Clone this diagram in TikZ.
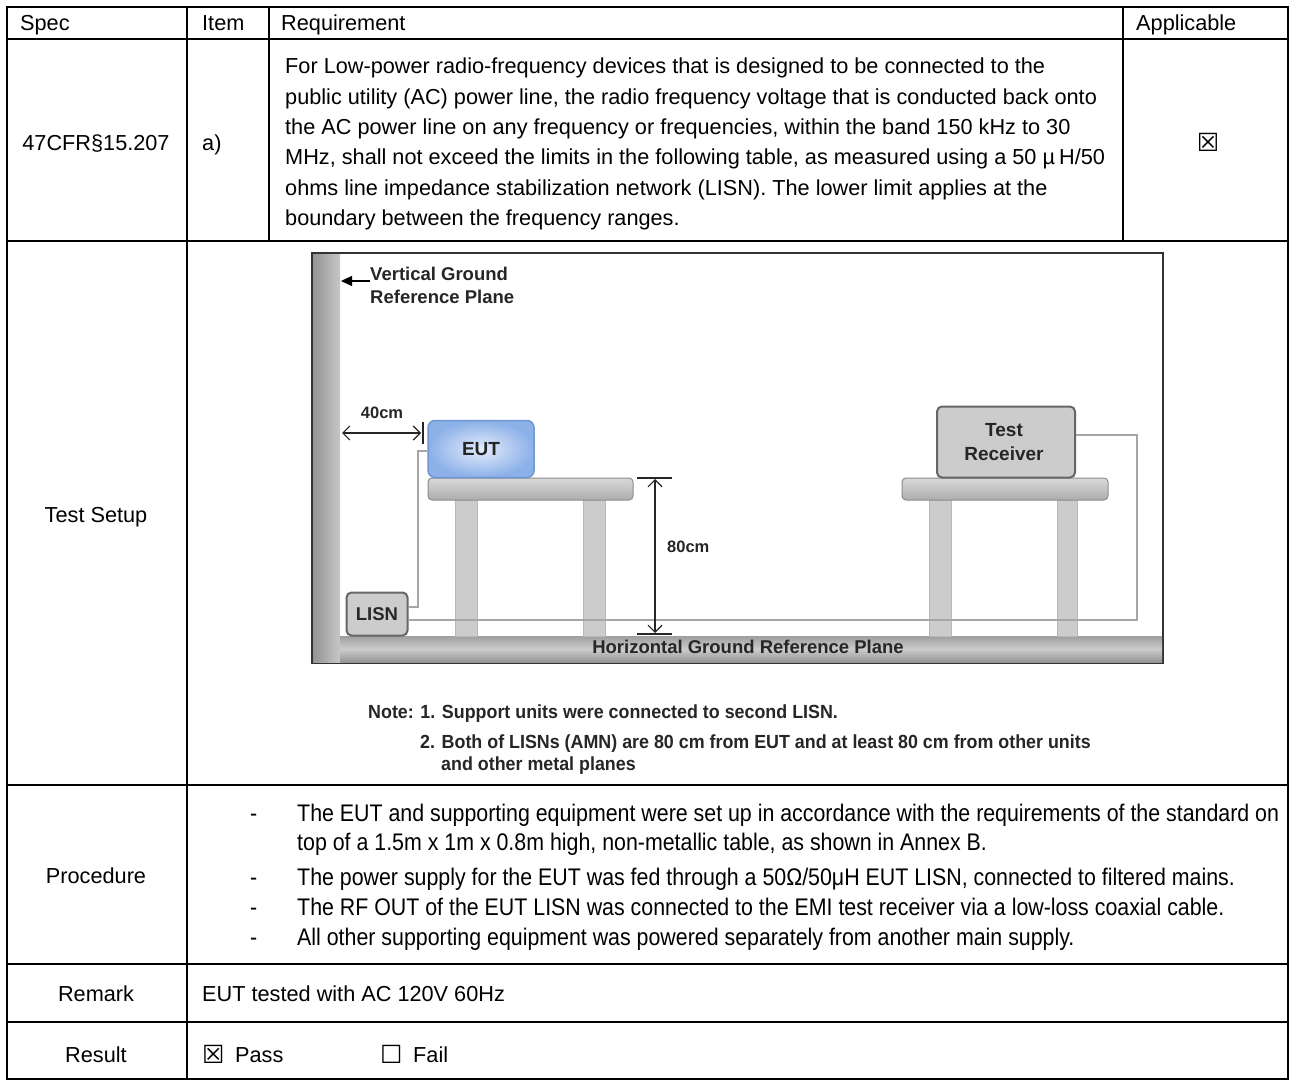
\documentclass[tikz,border=0pt]{standalone}
\usepackage{fontspec}
\setmainfont{Liberation Sans}
\newfontfamily\procfont{Liberation Sans}[FakeStretch=0.89]
\newfontfamily\notefont{Liberation Sans}[FakeStretch=0.94]
\newfontfamily\symfont{DejaVu Sans}
\usetikzlibrary{arrows.meta}
\definecolor{eutin}{RGB}{228,237,252}
\definecolor{eutout}{RGB}{140,176,232}
\definecolor{eutedge}{RGB}{112,150,214}
\tikzset{
  tabline/.style={line width=2pt, black},
  tabtxt/.style={inner sep=0pt, anchor=base west, font=\fontsize{21.7}{26}\selectfont},
  tabctr/.style={inner sep=0pt, anchor=base, font=\fontsize{21.7}{26}\selectfont},
  proctxt/.style={inner sep=0pt, anchor=base west, font=\procfont\fontsize{24}{28}\selectfont},
  diatxt/.style={inner sep=0pt, font=\bfseries\fontsize{18.5}{22}\selectfont, text=black!85},
  dimtxt/.style={inner sep=0pt, font=\bfseries\fontsize{16.5}{20}\selectfont, text=black!85},
  notetxt/.style={inner sep=0pt, anchor=base west, font=\notefont\bfseries\fontsize{19}{23}\selectfont, text=black!85},
  device/.style={draw=black!60, line width=2pt, fill=black!20, rounded corners=5pt, inner sep=0pt},
  tabletop/.style={draw=black!45, line width=1pt, top color=black!15, bottom color=black!32, rounded corners=4pt},
  tableleg/.style={draw=black!28, line width=1pt, fill=black!20},
  cable/.style={draw=black!35, line width=1.3pt},
  dim/.style={line width=1.2pt, black!85},
  chk/.style={inner sep=0pt, font=\symfont\fontsize{25}{28}\selectfont},
}
\begin{document}
\begin{tikzpicture}[x=1pt,y=-1pt]
\useasboundingbox (0,0) rectangle (1291,1081);
\fill[white] (0,0) rectangle (1291,1081);

% ---------- table grid ----------
\draw[tabline] (7,7) rectangle (1288,1079);
\draw[tabline] (7,39) -- (1288,39);
\draw[tabline] (7,241) -- (1288,241);
\draw[tabline] (7,785) -- (1288,785);
\draw[tabline] (7,964) -- (1288,964);
\draw[tabline] (7,1022) -- (1288,1022);
\draw[tabline] (187,7) -- (187,1079);
\draw[tabline] (269,7) -- (269,241);
\draw[tabline] (1123,7) -- (1123,241);

% ---------- header ----------
\node[tabtxt] (hspec) at (20,31) {Spec};
\node[tabtxt] (hitem) at (202,31) {Item};
\node[tabtxt] (hreq) at (281,31) {Requirement};
\node[tabtxt] (happ) at (1136,31) {Applicable};

% ---------- row 1 ----------
\node[tabctr] (spec) at (96,150) {47CFR§15.207};
\node[tabtxt] (item) at (202,150) {a)};
\node[tabtxt] (r1) at (285,74) {For Low-power radio-frequency devices that is designed to be connected to the};
\node[tabtxt] (r2) at (285,104) {public utility (AC) power line, the radio frequency voltage that is conducted back onto};
\node[tabtxt] (r3) at (285,134) {the AC power line on any frequency or frequencies, within the band 150 kHz to 30};
\node[tabtxt] (r4) at (285,164) {MHz, shall not exceed the limits in the following table, as measured using a 50 µ\kern-2pt\ H/50};
\node[tabtxt] (r5) at (285,195) {ohms line impedance stabilization network (LISN). The lower limit applies at the};
\node[tabtxt] (r6) at (285,225) {boundary between the frequency ranges.};
\node[chk] (appl) at (1208,142) {☒};

% ---------- row 2: test setup ----------
\node[tabctr] (tslabel) at (96,522) {Test Setup};

% diagram frame and planes
\draw[line width=1.5pt, black!80] (312,253) rectangle (1163,663);
\shade[left color=black!42, right color=black!22] (313,254) rectangle (340,662);
\shade[top color=black!38, bottom color=black!42, middle color=black!20] (340,636) rectangle (1162,662);
\node[diatxt] (hplane) at (748,647) {Horizontal Ground Reference Plane};

% vertical plane label
\node[diatxt, anchor=west] (vgt) at (370,274) {Vertical Ground};
\node[diatxt, anchor=west] (vgb) at (370,297) {Reference Plane};
\coordinate (vgtip) at (341,281);
\draw[line width=1.2pt, -{Triangle[length=11pt,width=10pt]}] (vgt.west |- vgtip) -- (vgtip);

% EUT table
\draw[tableleg] (455,498) rectangle (477,636);
\draw[tableleg] (583,498) rectangle (605,636);
\draw[tabletop] (428,478) rectangle (633,500);

% receiver table
\draw[tableleg] (929,498) rectangle (951,636);
\draw[tableleg] (1057,498) rectangle (1077,636);
\draw[tabletop] (902,478) rectangle (1108,500);

% devices
\node[draw=eutedge, line width=1.5pt, rounded corners=7pt, inner color=eutin, outer color=eutout,
      minimum width=106pt, minimum height=57pt, inner sep=0pt,
      font=\bfseries\fontsize{19}{22}\selectfont, text=black!85] (eut) at (481,449) {EUT};
\node[device, minimum width=138pt, minimum height=71pt] (rx) at (1006,442) {};
\node[diatxt, font=\bfseries\fontsize{19}{22}\selectfont] (rxa) at (1004,430) {Test};
\node[diatxt, font=\bfseries\fontsize{19}{22}\selectfont] (rxb) at (1004,454) {Receiver};
\node[device, minimum width=61pt, minimum height=43pt, font=\bfseries\fontsize{18.5}{22}\selectfont, text=black!85] (lisn) at (377,614) {LISN};

% cables
\coordinate (c1) at (418,607);
\coordinate (c2) at (418,451);
\coordinate (c3) at (1137,435);
\coordinate (c4) at (1137,620);
\draw[cable] (lisn.east |- c1) -- (c1) -- (c2) -- (eut.west |- c2);
\draw[cable] (rx.east |- c3) -- (c3) -- (c4) -- (lisn.east |- c4);

% 40cm dimension
\node[dimtxt] (d40) at (382,413) {40cm};
\coordinate (a40l) at (342,433);
\coordinate (a40r) at (421,433);
\draw[dim, {Straight Barb[length=7pt,width=14pt]}-{Straight Barb[length=7pt,width=14pt]}] (a40l) -- (a40r);
\draw[dim] (423,422) -- (423,444);

% 80cm dimension
\coordinate (a80t) at (655,479);
\coordinate (a80b) at (655,633);
\draw[dim, {Straight Barb[length=7pt,width=14pt]}-{Straight Barb[length=7pt,width=14pt]}] (a80t) -- (a80b);
\draw[dim] (637,478) -- (672,478);
\draw[dim] (637,634) -- (672,634);
\node[dimtxt, anchor=west] (d80) at (667,547) {80cm};

% notes
\node[notetxt] (n1) at (368,718) {Note: 1. Support units were connected to second LISN.};
\node[notetxt] (n2) at (420,748) {2. Both of LISNs (AMN) are 80 cm from EUT and at least 80 cm from other units};
\node[notetxt] (n3) at (441,770) {and other metal planes};

% ---------- procedure ----------
\node[tabctr] (proc) at (96,883) {Procedure};
\node[proctxt] (p1d) at (250,821) {-};
\node[proctxt] (p1) at (297,821) {The EUT and supporting equipment were set up in accordance with the requirements of the standard on};
\node[proctxt] (p1b) at (297,850) {top of a 1.5m x 1m x 0.8m high, non-metallic table, as shown in Annex B.};
\node[proctxt] (p2d) at (250,885) {-};
\node[proctxt] (p2) at (297,885) {The power supply for the EUT was fed through a 50Ω/50μH EUT LISN, connected to filtered mains.};
\node[proctxt] (p3d) at (250,915) {-};
\node[proctxt] (p3) at (297,915) {The RF OUT of the EUT LISN was connected to the EMI test receiver via a low-loss coaxial cable.};
\node[proctxt] (p4d) at (250,945) {-};
\node[proctxt] (p4) at (297,945) {All other supporting equipment was powered separately from another main supply.};

% ---------- remark ----------
\node[tabctr] (rem) at (96,1001) {Remark};
\node[tabtxt] (remt) at (202,1001) {EUT tested with AC 120V 60Hz};

% ---------- result ----------
\node[tabctr] (res) at (96,1062) {Result};
\node[chk, anchor=base west] (pbox) at (202,1063) {☒};
\node[tabtxt] (pass) at (235,1062) {Pass};
\node[chk, anchor=base west] (fbox) at (380,1063) {☐};
\node[tabtxt] (fail) at (413,1062) {Fail};
\end{tikzpicture}
\end{document}
